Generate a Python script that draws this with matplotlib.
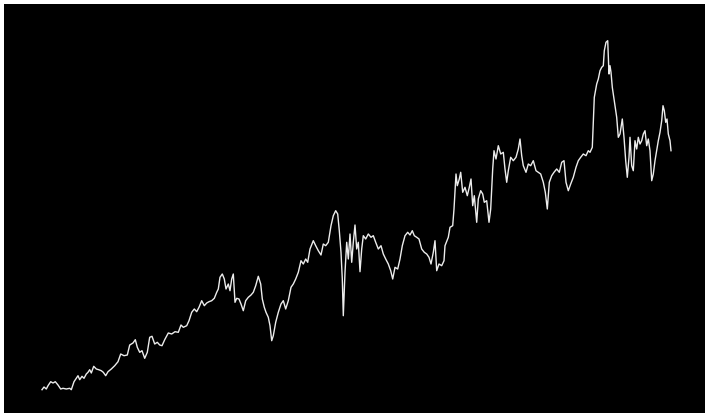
"""
Price series drawn as a white line on a black panel, no axes or labels.
"""

import matplotlib
matplotlib.use("Agg")
import matplotlib.pyplot as plt

# trading day index and price level
days = [
    2, 4, 6.3, 8, 10.7, 13, 15.3, 18, 20.7, 23, 26.3, 29.7, 31.3, 34, 36.3, 38,
    39.7, 42, 44, 46.3, 48, 49.7, 51.3, 53.7, 56.3, 58.7, 61.3, 63.3, 65.7, 68,
    71.3, 74.7, 78, 80.7, 84, 87.3, 89.7, 93, 95.3, 97.3, 99.7, 102, 104.7,
    107.3, 109.7, 112, 114.7, 117.3, 119.7, 122, 124.7, 128.3, 131.7, 135,
    138.3, 141, 143.3, 146.7, 149, 151.7, 154.3, 156.7, 159, 161.7, 164.3,
    166.7, 169, 171.7, 174.3, 176.7, 178.3, 180, 182.3, 184.3, 186, 188.3, 190,
    191.7, 193.3, 195, 196.7, 199, 201, 203.3, 205.7, 208.3, 211, 213.3, 215.7,
    218.3, 220.7, 222.3, 224.3, 226, 228.3, 230, 231.7, 233.3, 235.7, 238.3,
    241, 243.3, 245.7, 248.3, 251, 253.3, 255.7, 258.3, 261, 263.3, 265.7,
    267.7, 270, 273.3, 275.7, 278.3, 281, 283.3, 285.7, 288.3, 291, 293.3,
    295.7, 297.7, 299.3, 301, 302.3, 303.3, 305, 306.7, 308.3, 310, 311.7,
    313.3, 315, 316.7, 318.3, 320, 321.7, 323.3, 325.7, 328.3, 331, 333.3,
    335.7, 338.3, 341, 343.3, 345.7, 348.3, 350.7, 352.7, 355, 357.7, 360,
    362.3, 365, 367.7, 370, 372.3, 374.3, 376.7, 379, 381.7, 384.3, 386.7, 389,
    391, 393.3, 395, 396.7, 399, 401.7, 404, 405, 408.3, 410, 412.7, 414, 416,
    417.3, 419.3, 420.7, 422.7, 425, 427.3, 429.3, 431, 432.7, 434.3, 436.7,
    438.3, 440.7, 442.7, 444.3, 446.7, 449, 450.7, 452.7, 454, 456, 458.3,
    460.7, 463.3, 465, 466.7, 468.3, 470.7, 473.3, 476, 478.3, 480, 481.7,
    483.3, 486, 488.3, 490.7, 493.3, 496, 498.3, 500.7, 503.3, 505.3, 507.3,
    509.3, 511.7, 514, 516.7, 519.3, 521.7, 524, 526, 528.3, 530.7, 533.3, 536,
    538.3, 540.7, 543.3, 546, 548.3, 550, 552.3, 554.3, 556.7, 558.3, 560,
    561.7, 563.3, 564.3, 566, 567.7, 569, 570, 571, 572.3, 574.3, 576.7, 578.3,
    580, 582.3, 584, 585.7, 587.3, 589, 590, 591.7, 593.3, 595, 596.7, 598.3,
    600, 601.7, 603.3, 605, 606.7, 608.3, 610, 611.7, 613.3, 615, 616.7, 618.3,
    620, 621.7, 623, 624.3, 625.7, 627, 628.3, 630, 631,
]
prices = [
    23.3, 26, 24, 27.3, 31.3, 30, 31.3, 28, 24, 24.7, 24, 24.7, 23.3, 31.3,
    34.7, 37.3, 33.3, 36.7, 34.7, 39, 40.7, 43.3, 40, 46.7, 44, 43.3, 42.3,
    40.7, 37.3, 41.3, 44, 47.3, 51.3, 59, 57.3, 58, 68, 70, 73.3, 65.7, 60.7,
    62.3, 54.7, 60.7, 75.7, 76.7, 69, 70.7, 68, 67.3, 73.3, 80, 79, 81.3, 80.7,
    88, 85.7, 87.3, 92.3, 100.7, 104, 101.3, 105.7, 112.3, 107.3, 110, 111.3,
    112.3, 114.7, 120.7, 124, 135.7, 139, 134, 124, 129, 122.3, 134, 139,
    110.7, 114.7, 114, 109, 102.3, 112.3, 115.7, 118, 120.7, 127.3, 136.7, 129,
    114, 105.7, 100.7, 95.7, 87.3, 72.3, 77.3, 90.7, 100.7, 109, 112.3, 104,
    112.3, 125.7, 129, 134, 140.7, 152.3, 149, 154, 150.7, 164, 172.3, 167.3,
    162.3, 158, 169, 167.3, 170.7, 187.3, 197.3, 202.3, 199, 182.3, 160.7, 134,
    97.3, 140.7, 170.7, 154, 179, 150.7, 170.7, 188, 164, 170.7, 141.3, 164,
    177.3, 174, 179, 175.7, 177.3, 170.7, 164, 167.3, 159, 154, 149, 142.3,
    134, 145.7, 144, 154, 167.3, 177.3, 180.7, 178, 182.3, 177.3, 175.7, 174,
    164, 160.7, 159, 155.7, 149, 160.7, 172.3, 142.3, 149, 147.3, 152.3, 167.3,
    175.7, 185.7, 187.3, 204, 239, 227.3, 234, 240.7, 220.7, 225.7, 217.3,
    225.7, 234, 207.3, 217.3, 190.7, 214, 222.3, 219, 210.7, 212.3, 190.7, 204,
    244, 262.3, 254, 267.3, 259, 260.7, 244, 230.7, 242.3, 255.7, 252.3, 255.7,
    264, 274, 257.3, 247.3, 240.7, 249, 247.3, 252.3, 242.3, 240.7, 239, 230.7,
    220.7, 204, 230.7, 237.3, 240.7, 244, 240.7, 250.7, 252.3, 230.7, 222.3,
    229, 235.7, 245.7, 252.3, 255.7, 259, 257.3, 262.3, 260.7, 265.7, 315.7,
    329, 334, 342.3, 345.7, 347.3, 362.3, 370.7, 372.3, 339, 347.3, 340.7,
    325.7, 312.3, 295.7, 275.7, 279, 294, 275.7, 252.3, 235.7, 255.7, 275.7,
    247.3, 242.3, 272.3, 264, 275.7, 269, 272.3, 279, 282.3, 267.3, 274, 262.3,
    232.3, 239, 252.3, 262.3, 272.3, 280.7, 292.3, 307.3, 302.3, 290.7, 294,
    279, 272.3, 262.3,
]

fig = plt.figure(figsize=(7.05, 4.14), dpi=100, facecolor="white")
ax = fig.add_axes([4 / 705, 0, 701 / 705, 409 / 414])
ax.set_facecolor("black")
ax.plot(days, prices, color="#ececec", linewidth=1.0)
ax.set_xlim(-36, 665)
ax.set_ylim(0, 409)
ax.axis("off")
ax.add_patch(plt.Rectangle((0, 0), 1, 1, transform=ax.transAxes,
                           facecolor="black", zorder=0))

fig.savefig("out.png", dpi=100, facecolor="white")
